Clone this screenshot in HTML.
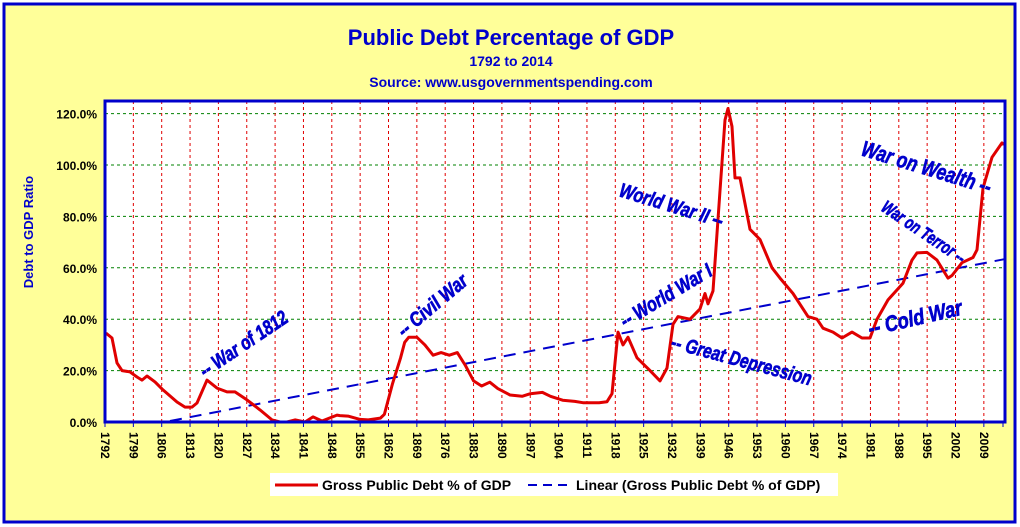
<!DOCTYPE html>
<html><head><meta charset="utf-8"><style>
html,body{margin:0;padding:0;background:#fff}
svg{display:block}
text{font-family:"Liberation Sans",Arial,sans-serif;font-weight:bold}
</style></head><body>
<svg id="s" width="1020" height="527" xmlns="http://www.w3.org/2000/svg">
<rect x="0" y="0" width="1020" height="527" fill="#fff"/>
<rect x="4" y="4" width="1011" height="518" fill="#FFFF99" stroke="#0000CC" stroke-width="3"/>
<text x="511" y="45" text-anchor="middle" font-size="22" fill="#0000CC">Public Debt Percentage of GDP</text>
<text x="511" y="66" text-anchor="middle" font-size="14" fill="#0000CC">1792 to 2014</text>
<text x="511" y="87" text-anchor="middle" font-size="14" fill="#0000CC">Source: www.usgovernmentspending.com</text>
<text transform="translate(33,232) rotate(-90)" text-anchor="middle" font-size="13" fill="#0000CC">Debt to GDP Ratio</text>
<rect x="105" y="101" width="900" height="321" fill="#fff"/>
<g id="grid"></g>
<g id="series"></g>
<rect x="105" y="101" width="900" height="321" fill="none" stroke="#0000CC" stroke-width="3"/>
<g id="labels"></g>
<g fill="#0000CC" stroke="#0000CC" stroke-width="0.7" font-size="20" font-style="italic">
<text transform="translate(205,378) rotate(-34) scale(0.78,1)">-- War of 1812</text>
<text transform="translate(404,338) rotate(-40) scale(0.82,1)">-- Civil War</text>
<text transform="translate(625,328) rotate(-31) scale(0.8,1)">-- World War I</text>
<text transform="translate(618,196) rotate(17) scale(0.8,1)">World War II --</text>
<text transform="translate(670,348) rotate(15) scale(0.78,1)">-- Great Depression</text>
<text transform="translate(870,336) rotate(-13) scale(0.82,1)" font-size="22">-- Cold War</text>
<text transform="translate(880,210) rotate(34) scale(0.72,1)" font-size="18">War on Terror --</text>
<text transform="translate(860,155) rotate(17) scale(0.78,1)" font-size="22">War on Wealth --</text>
</g>
<rect x="270" y="473" width="568" height="23" fill="#fff"/>
<line x1="275" y1="485" x2="318" y2="485" stroke="#E00000" stroke-width="3"/>
<text x="322" y="490" font-size="14" fill="#000">Gross Public Debt % of GDP</text>
<line x1="528" y1="485" x2="572" y2="485" stroke="#0000CC" stroke-width="2" stroke-dasharray="9,6"/>
<text x="576" y="490" font-size="14" fill="#000">Linear (Gross Public Debt % of GDP)</text>
</svg>
<script>
var NS="http://www.w3.org/2000/svg";
function X(y){return 105+(y-1792)*4.05;}
function Y(v){return 422-v*2.57;}
function el(p,t,a,txt){var e=document.createElementNS(NS,t);for(var k in a)e.setAttribute(k,a[k]);if(txt)e.textContent=txt;document.getElementById(p).appendChild(e);return e;}
for(var v=20;v<=120;v+=20){el("grid","line",{x1:105,x2:1005,y1:Y(v),y2:Y(v),stroke:"#008000","stroke-width":1,"stroke-dasharray":"3,3"});}
for(var y=1792;y<=2014;y+=7){var x=X(y);
 if(y>1792)el("grid","line",{x1:x,x2:x,y1:101,y2:422,stroke:"#E00000","stroke-width":1,"stroke-dasharray":"3,3"});
 el("labels","line",{x1:x,x2:x,y1:422,y2:427,stroke:"#0000CC","stroke-width":1});
 el("labels","text",{transform:"translate("+(x-4)+",432) rotate(90)","font-size":12,fill:"#000"},String(y));}
el("labels","line",{x1:1003,x2:1003,y1:422,y2:427,stroke:"#0000CC"});
for(var v=0;v<=120;v+=20){el("labels","text",{x:97,y:Y(v)+5,"text-anchor":"end","font-size":12,fill:"#000"},v.toFixed(1)+"%");}
var a=[[106,34.6],[112,32.7],[117,23],[122,20],[130,19.5],[137,17.5],[142,16.3],[147,17.9],[155,15.6],[163,12.5],[177,7.8],[185,5.8],[192,5.8],[197,7.4],[207,16.3],[217,13.2],[227,11.7],[235,11.7],[247,8.6],[260,4.7],[272,0.8],[280,0],[287,0],[295,0.8],[305,0],[313,2],[322,0.4],[337,2.7]];
var yrs=[[1850,2.5],[1852,2.3],[1855,1],[1857,0.8],[1860,1.5],[1861,3],[1863,15],[1865,25],[1866,31],[1867,33],[1869,33],[1871,30],[1873,26],[1875,27],[1877,26],[1879,27],[1881,22],[1883,16],[1885,14],[1887,15.5],[1889,13],[1892,10.5],[1895,10],[1897,11],[1900,11.5],[1902,10],[1905,8.5],[1908,8],[1910,7.5],[1912,7.5],[1914,7.5]];
yrs.forEach(function(q){a.push([X(q[0]),q[1]]);});
a=a.concat([[607,7.9],[612,11],[618,35],[623,30],[628,33],[637,25],[650,20],[660,16],[667,21],[673,38],[678,41],[690,40],[700,44],[705,50],[708,46],[713,51],[720,90],[725,117.5],[728,122],[732,115],[735,95],[740,95],[750,75],[760,71],[772,60],[780,56],[793,50],[808,41],[817,40],[823,36.5],[833,35],[842,32.7],[852,35],[862,32.7],[870,32.7],[877,40],[888,47.5],[903,54],[912,63],[917,65.8],[927,66],[937,63],[948,56],[952,57],[962,62],[973,64],[977,67],[983,91],[992,103],[1002,108.6],[1004,108]]);
var p=a.map(function(q,i){return (i?"L":"M")+q[0].toFixed(1)+","+Y(q[1]).toFixed(1);}).join(" ");
el("series","line",{x1:170,y1:421,x2:1005,y2:Y(63.4),stroke:"#0000CC","stroke-width":2,"stroke-dasharray":"12,8"});
el("series","path",{d:p,fill:"none",stroke:"#E00000","stroke-width":3,"stroke-linejoin":"round"});
</script>
</body></html>
